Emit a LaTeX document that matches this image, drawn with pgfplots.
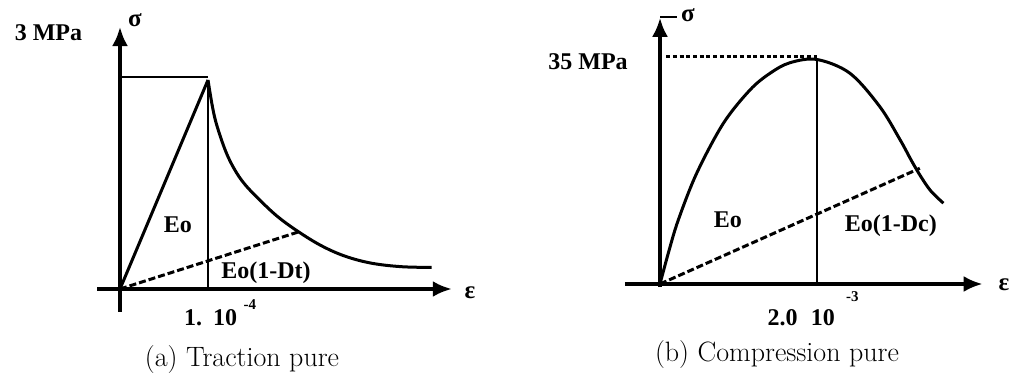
\documentclass[border=0pt]{standalone}
\usepackage{fontspec}
\usepackage{pgfplots}
\pgfplotsset{compat=1.18}
\usetikzlibrary{arrows.meta}
\newfontfamily\lab{Liberation Serif}
\newcommand{\lf}{\lab\bfseries\fontsize{24}{28}\selectfont}
\newcommand{\supf}{\lab\bfseries\fontsize{15}{16}\selectfont}
\newcommand{\gf}{\lab\bfseries\fontsize{25}{26}\selectfont}
\begin{document}
\begin{tikzpicture}
\useasboundingbox (0pt,0pt) rectangle (1011pt,380pt);
\pgfplotsset{panel/.style={axis lines=middle, xtick=\empty, ytick=\empty, clip=false,
  scale only axis, anchor=origin,
  axis line style={line width=3.5pt, -{Latex[length=19pt,width=16pt]}},
  every inner x axis line/.append style={-{Latex[length=19pt,width=16pt]}},
  every inner y axis line/.append style={-{Latex[length=19pt,width=16pt]}}}}
% ---------------- (a) Traction pure ----------------
\begin{axis}[panel, at={(120pt,91pt)}, x=88pt, y=69.67pt,
  xmin=-0.26, xmax=3.77, ymin=-0.33, ymax=3.76]
\addplot[line width=3pt] coordinates {(0,0) (1,3)};
\addplot[line width=2pt] coordinates {(0,3.04) (1,3.04)};
\addplot[line width=2pt] coordinates {(1,3) (1,0)};
\addplot[line width=3pt, smooth, tension=0.6] coordinates {
 (1,3) (1.05,2.62) (1.1,2.35) (1.2,1.98) (1.3,1.72) (1.42,1.5) (1.61,1.25)
 (1.8,1.03) (2.03,0.82) (2.29,0.62) (2.56,0.47) (2.86,0.37) (3.2,0.32) (3.54,0.31)};
\addplot[line width=3pt, dash pattern=on 7pt off 3pt] coordinates {(0,0) (2.03,0.82)};
\node[font=\lf] at (axis cs:-0.813,3.674) {3 MPa};
\node[font=\gf] at (axis cs:0.17,3.86) {σ};
\node[font=\lf] at (axis cs:0.659,0.919) {Eo};
\node[font=\lf] at (axis cs:1.66,0.23) {Eo(1-Dt)};
\node[font=\lf] at (axis cs:1.03,-0.416) {1.\hspace{0.45em}10};
\node[font=\supf] at (axis cs:1.477,-0.23) {-4};
\node[font=\gf] at (axis cs:3.977,-0.057) {ε};
\end{axis}
% ---------------- (b) Compression pure ----------------
\begin{axis}[panel, at={(660pt,96pt)}, x=78.5pt, y=6.414pt,
  xmin=-0.446, xmax=4.11, ymin=-0.47, ymax=41.5]
\addplot[line width=3pt, smooth, tension=0.55] coordinates {
 (0,0) (0.11,5.0) (0.233,9.98) (0.467,17.26) (0.807,25.05) (1.146,30.25)
 (1.401,32.85) (1.656,34.5) (2.0,35) (2.42,32.85) (2.80,27.65) (3.06,22.45)
 (3.2,19.3) (3.32,16.8) (3.45,14.5) (3.61,12.6)};
\addplot[line width=2pt] coordinates {(2.0,35) (2.0,0)};
\addplot[line width=2.5pt, dash pattern=on 4pt off 2.7pt] coordinates {(0.08,35.5) (2.0,35.5)};
\addplot[line width=3pt, dash pattern=on 7pt off 3pt] coordinates {(0,0) (3.31,18.04)};
\addplot[line width=2pt] coordinates {(0,41.6) (0.22,41.6)};
\node[font=\lf] at (axis cs:-0.917,34.61) {35 MPa};
\node[font=\gf] at (axis cs:0.357,41.9) {σ};
\node[font=\lf] at (axis cs:0.866,9.98) {Eo};
\node[font=\lf] at (axis cs:2.94,9.04) {Eo(1-Dc)};
\node[font=\lf] at (axis cs:1.80,-5.3) {2.0\hspace{0.55em}10};
\node[font=\supf] at (axis cs:2.45,-2.0) {-3};
\node[font=\gf] at (axis cs:4.38,-0.16) {ε};
\end{axis}
% ---------------- captions ----------------
\node[anchor=base, font=\fontsize{28}{32}\selectfont] at (242pt,14pt) {(a) Traction pure};
\node[anchor=base, font=\fontsize{28}{32}\selectfont] at (777pt,19pt) {(b) Compression pure};
\end{tikzpicture}
\end{document}
